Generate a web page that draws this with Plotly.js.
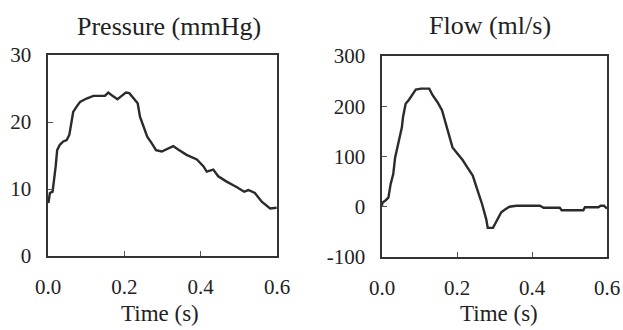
<!DOCTYPE html>
<html>
<head>
<meta charset="utf-8">
<script src="https://cdn.plot.ly/plotly-3.0.1.min.js"></script>
<style>
html,body{margin:0;padding:0;background:#fff;}
#chart{width:623px;height:330px;}
</style>
</head>
<body>
<div id="chart"></div>
<script>
// Pressure (mmHg) vs time (s)
const pressureTime = [0.001,0.005,0.012,0.016,0.020,0.024,0.031,0.040,0.049,0.056,0.062,0.066,0.075,0.084,0.101,0.119,0.149,0.158,0.167,0.182,0.193,0.204,0.213,0.224,0.235,0.241,0.250,0.260,0.272,0.283,0.298,0.311,0.328,0.341,0.363,0.390,0.407,0.416,0.433,0.446,0.468,0.494,0.514,0.525,0.542,0.560,0.582,0.599];
const pressureVal  = [7.9,9.4,9.6,11.3,13.3,15.8,16.6,17.1,17.3,18.1,19.8,21.5,22.3,23.0,23.5,23.9,23.9,24.4,24.0,23.4,23.9,24.4,24.3,23.5,22.8,20.8,19.3,17.8,16.8,15.8,15.6,15.9,16.4,15.9,15.1,14.4,13.4,12.6,12.9,11.9,11.1,10.3,9.6,9.85,9.4,8.1,7.1,7.2];

// Flow (ml/s) vs time (s)
const flowTime = [0.000,0.001,0.010,0.017,0.023,0.030,0.035,0.041,0.046,0.053,0.056,0.063,0.072,0.081,0.090,0.104,0.126,0.135,0.148,0.160,0.171,0.179,0.188,0.202,0.215,0.228,0.242,0.255,0.267,0.278,0.282,0.296,0.305,0.318,0.329,0.340,0.358,0.421,0.431,0.474,0.479,0.537,0.541,0.577,0.583,0.592,0.600];
const flowVal  = [2,8,13,18,45,65,98,118,138,158,178,205,213,222,233,235,235,222,208,192,162,138,118,105,93,78,62,32,5,-25,-42,-42,-28,-11,-5,0,2,2,-2,-2,-7,-7,-1,-1,2,2,-4];

// Tick labels
const xTickVals = [0, 0.2, 0.4, 0.6];
const xTickText = ['0.0', '0.2', '0.4', '0.6'];
const pTickVals = [0, 10, 20, 30];
const pTickText = ['0', '10', '20', '30'];
const fTickVals = [-100, 0, 100, 200, 300];
const fTickText = ['-100', '0', '100', '200', '300'];

const titles = ['Pressure (mmHg)', 'Flow (ml/s)'];
const xTitle = 'Time (s)';

const FONT = 'Times New Roman, Liberation Serif, DejaVu Serif, serif';
const INK = '#2b2b2b';

const lineStyle = {color: INK, width: 2.4};

const traces = [
  {x: pressureTime, y: pressureVal, type: 'scatter', mode: 'lines', line: lineStyle, xaxis: 'x', yaxis: 'y', hoverinfo: 'skip'},
  {x: flowTime, y: flowVal, type: 'scatter', mode: 'lines', line: lineStyle, xaxis: 'x2', yaxis: 'y2', hoverinfo: 'skip'}
];

function axisBase(extra) {
  return Object.assign({
    showgrid: false, zeroline: false, showline: true, mirror: true,
    linecolor: '#333', linewidth: 1.6,
    ticks: 'inside', ticklen: 5, tickwidth: 1, tickcolor: '#555',
    tickfont: {family: FONT, size: 21, color: '#222'},
    tickmode: 'array', fixedrange: true
  }, extra);
}

const layout = {
  width: 623, height: 330,
  margin: {l: 0, r: 0, t: 0, b: 0},
  paper_bgcolor: '#fff', plot_bgcolor: '#fff',
  showlegend: false,
  font: {family: FONT},
  xaxis: axisBase({domain: [48/623, 277/623], range: [0, 0.6], tickvals: xTickVals, ticktext: xTickText, anchor: 'y', ticklabelstandoff: 11}),
  yaxis: axisBase({domain: [1 - 256/330, 1 - 55/330], range: [0, 30], tickvals: pTickVals, ticktext: pTickText, anchor: 'x', ticklabelstandoff: 11}),
  xaxis2: axisBase({domain: [382/623, 607/623], range: [0, 0.6], tickvals: xTickVals, ticktext: xTickText, anchor: 'y2', ticklabelstandoff: 11}),
  yaxis2: axisBase({domain: [1 - 257/330, 1 - 56/330], range: [-100, 300], tickvals: fTickVals, ticktext: fTickText, anchor: 'x2', ticklabelstandoff: 11}),
  annotations: [
    {text: titles[0], xref: 'paper', yref: 'paper', x: 169/623, y: 1 - 27/330, xanchor: 'center', yanchor: 'middle', showarrow: false, font: {family: FONT, size: 26, color: '#222'}},
    {text: titles[1], xref: 'paper', yref: 'paper', x: 490/623, y: 1 - 26/330, xanchor: 'center', yanchor: 'middle', showarrow: false, font: {family: FONT, size: 26, color: '#222'}},
    {text: xTitle, xref: 'paper', yref: 'paper', x: 160/623, y: 1 - 313/330, xanchor: 'center', yanchor: 'middle', showarrow: false, font: {family: FONT, size: 23, color: '#222'}},
    {text: xTitle, xref: 'paper', yref: 'paper', x: 499/623, y: 1 - 313/330, xanchor: 'center', yanchor: 'middle', showarrow: false, font: {family: FONT, size: 23, color: '#222'}}
  ]
};

Plotly.newPlot('chart', traces, layout, {staticPlot: true, displayModeBar: false});
</script>
</body>
</html>
